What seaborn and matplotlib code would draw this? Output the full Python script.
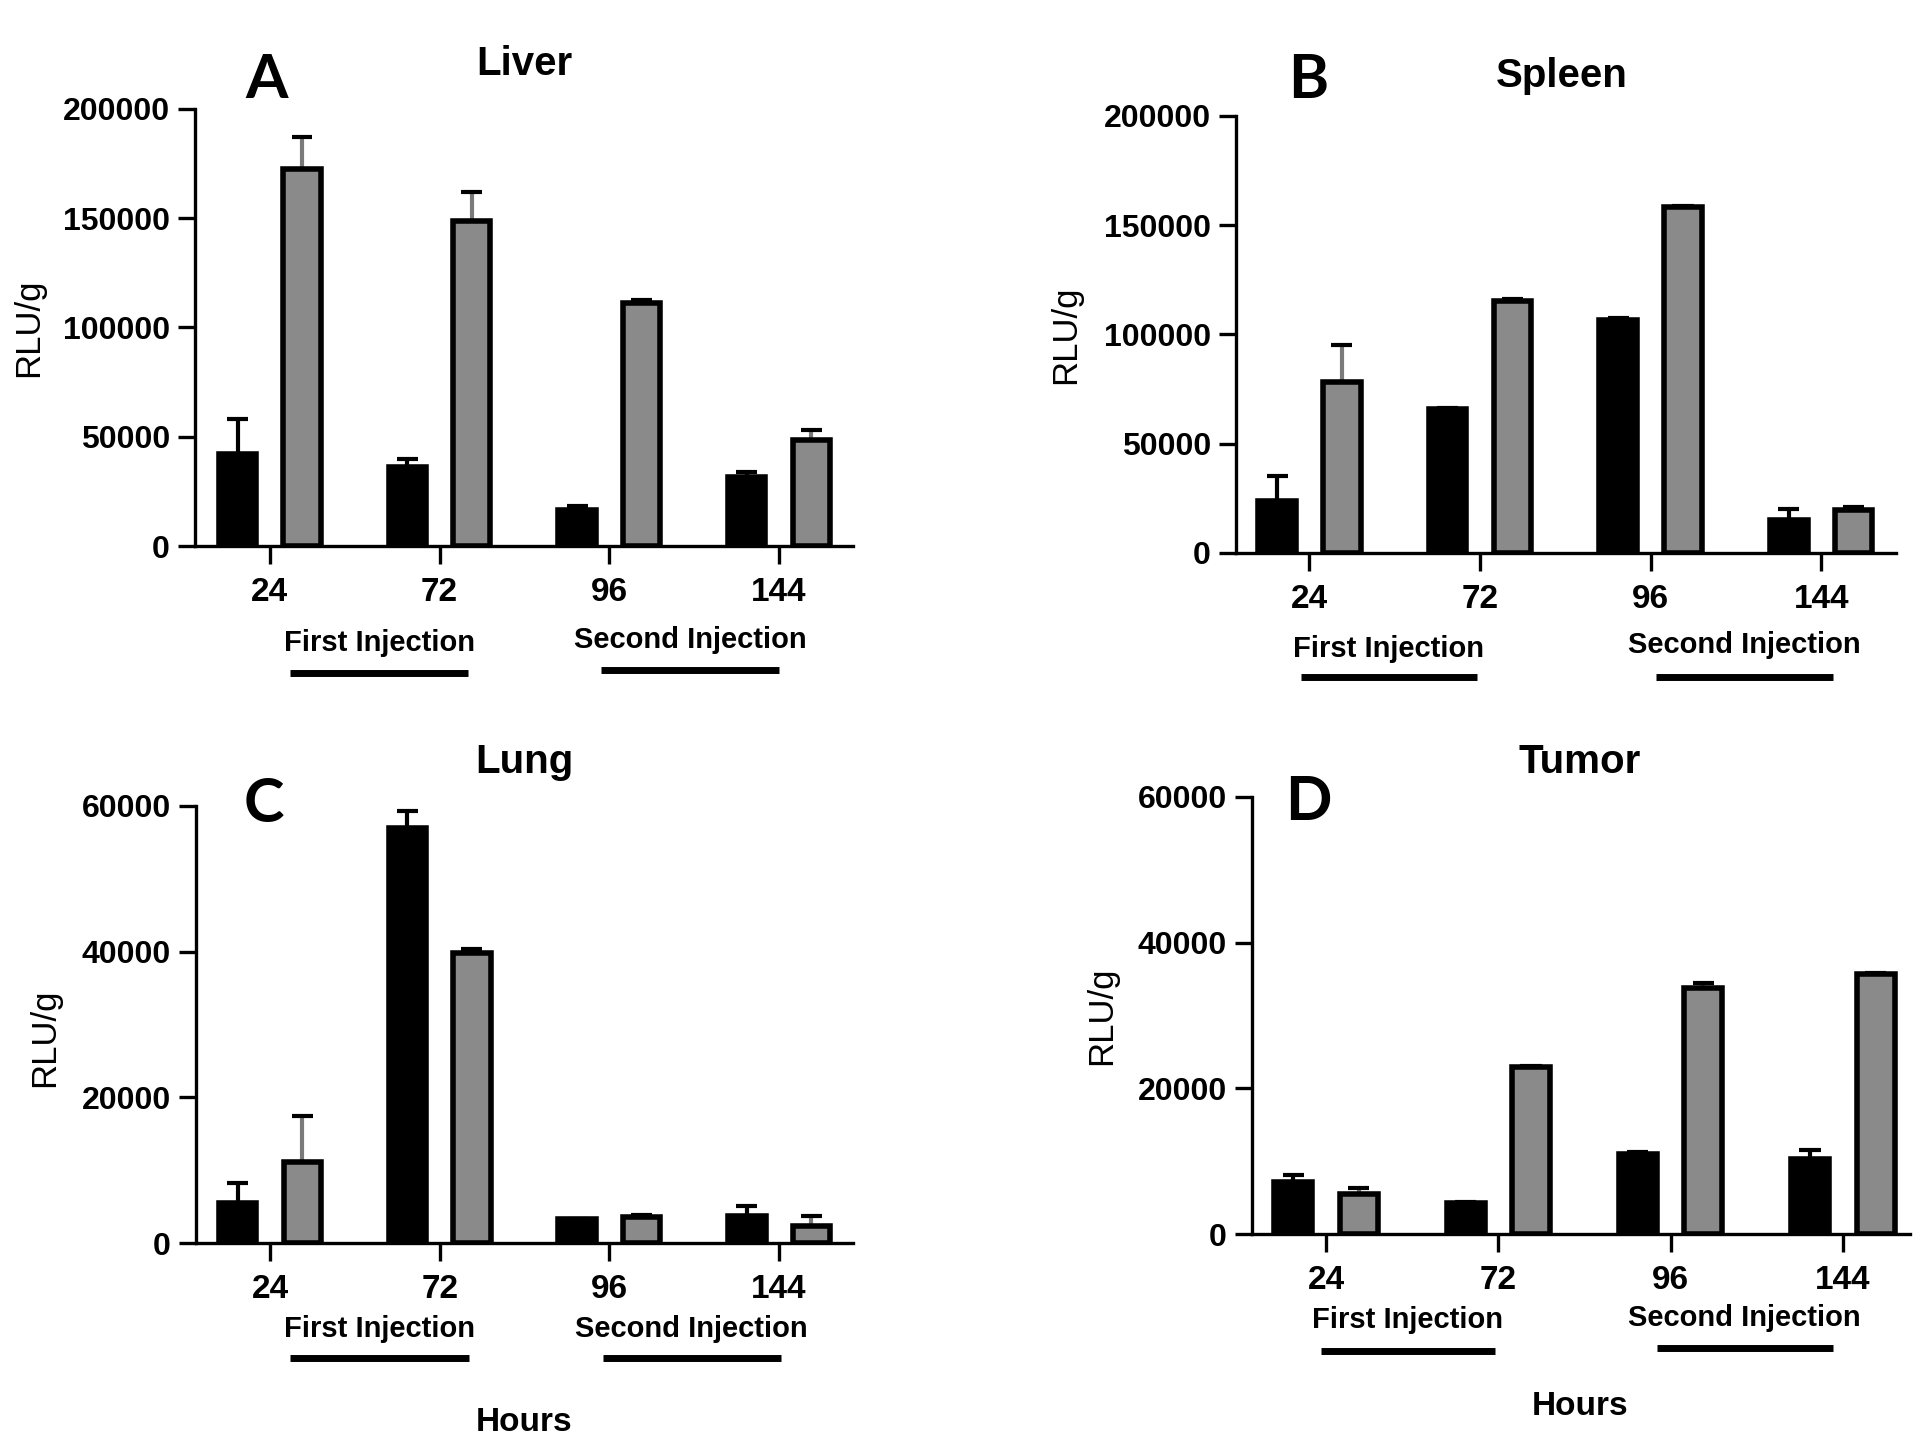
import numpy as np
import pandas as pd
import matplotlib
matplotlib.use("Agg")
import matplotlib.pyplot as plt
import seaborn as sns
from matplotlib.ticker import FuncFormatter

# Data (mean and upper error, RLU/g)
hours = ["24", "72", "96", "144"]
groups = ["Black", "Gray"]

liver_black = [42300, 36200, 16300, 31500]
liver_black_err = [15900, 3400, 1900, 2200]
liver_gray = [172400, 148500, 111100, 48400]
liver_gray_err = [14900, 13300, 1700, 4700]

spleen_black = [23900, 65800, 106800, 15300]
spleen_black_err = [11200, 600, 600, 4900]
spleen_gray = [78000, 115400, 158300, 19800]
spleen_gray_err = [17200, 1000, 400, 1400]

lung_black = [5440, 57030, 3230, 3670]
lung_black_err = [2790, 2210, 120, 1460]
lung_gray = [11140, 39870, 3540, 2340]
lung_gray_err = [6330, 510, 320, 1330]

tumor_black = [7100, 4310, 10960, 10260]
tumor_black_err = [1010, 100, 250, 1270]
tumor_gray = [5510, 22940, 33710, 35670]
tumor_gray_err = [830, 100, 760, 190]

sns.set_style("ticks")
plt.rcParams["font.family"] = ["Liberation Sans", "DejaVu Sans"]
plt.rcParams["text.color"] = "black"
plt.rcParams["axes.labelcolor"] = "black"

BAR_COLORS = {"Black": "black", "Gray": "#8a8a8a"}
STEM_COLORS = {"Black": "black", "Gray": "#7a7a7a"}


def draw_panel(ax, title, black, black_err, gray, gray_err, ymax, ystep, lay):

    """Draw one grouped bar panel with upper-only error bars."""

    df = pd.DataFrame({
        "Hours": hours * 2,
        "Group": ["Black"] * 4 + ["Gray"] * 4,
        "RLU": black + gray,
    })
    errs = {"Black": black_err, "Gray": gray_err}

    sns.barplot(
        data = df, x = "Hours", y = "RLU", hue = "Group",
        order = hours, hue_order = groups,
        palette = BAR_COLORS,
        width = 0.76, gap = 0.42,
        errorbar = None,
        edgecolor = "black", linewidth = 4,
        legend = False, ax = ax, zorder = 3,
    )

    # Patches come out hue by hue, in category order.
    patches = list(ax.patches)
    for i, p in enumerate(patches[:8]):
        grp = groups[i // 4]
        err = errs[grp][i % 4]
        xc = p.get_x() + p.get_width() / 2
        top = p.get_height()
        half = p.get_width() * 0.28
        ax.vlines(xc, top, top + err, color = STEM_COLORS[grp], lw = 3, zorder = 2)
        ax.hlines(top + err, xc - half, xc + half, color = "black", lw = 3, zorder = 2)

    sns.despine(ax = ax)
    for side in ["left", "bottom"]:
        ax.spines[side].set_linewidth(2.4)
        ax.spines[side].set_color("black")

    ax.set_xlim(*lay["xlim"])
    ax.set_ylim(0, ymax)
    ax.set_yticks(np.arange(0, ymax + 1, ystep))
    ax.yaxis.set_major_formatter(FuncFormatter(lambda v, p: f"{int(v)}"))
    ax.tick_params(axis = "y", length = 12, width = 2.4, pad = 6, labelsize = 23, colors = "black")
    ax.tick_params(axis = "x", length = 13, width = 2.4, pad = 9, labelsize = 24, colors = "black")
    for lab in ax.get_xticklabels() + ax.get_yticklabels():
        lab.set_fontweight("bold")

    ax.set_xlabel("")
    ax.set_ylabel("RLU/g", fontsize = 25, fontweight = "normal")
    ax.yaxis.set_label_coords(*lay["ylab"])

    ax.text(*lay["letter"], lay["name"], transform = ax.transAxes, ha = "center", va = "center",
            fontsize = 44, fontweight = "bold", family = ["Lato", "DejaVu Sans"])
    ax.text(*lay["title"], title, transform = ax.transAxes, ha = "center", va = "center",
            fontsize = 29, fontweight = "bold")

    # Injection labels with their underline bars
    trans = ax.get_xaxis_transform()
    for label, (x0, x1), ty, ly in [
        ("First Injection", lay["first"], lay["first_y"][0], lay["first_y"][1]),
        ("Second Injection", lay["second"], lay["second_y"][0], lay["second_y"][1]),
    ]:
        ax.text((x0 + x1) / 2, ty, label, transform = trans, ha = "center", va = "center",
                fontsize = 21, fontweight = "bold")
        ax.plot([x0, x1], [ly, ly], transform = trans, color = "black", lw = 5,
                solid_capstyle = "butt", clip_on = False)

    if "hours" in lay:
        ax.text(*lay["hours"], "Hours", transform = ax.transAxes, ha = "center", va = "center",
                fontsize = 24, fontweight = "bold")


fig = plt.figure(figsize = (19.2, 14.43), dpi = 100)

ax_a = fig.add_axes([0.1016, 0.6216, 0.3427, 0.3029])
ax_b = fig.add_axes([0.6438, 0.6168, 0.3438, 0.3029])
ax_c = fig.add_axes([0.1021, 0.1386, 0.3422, 0.3029])
ax_d = fig.add_axes([0.6521, 0.1448, 0.3427, 0.3029])

draw_panel(ax_a, "Liver", liver_black, liver_black_err, liver_gray, liver_gray_err, 200000, 50000, {
    "name": "A", "letter": (0.108, 1.066), "title": (0.50, 1.103), "ylab": (-0.228, 0.5),
    "xlim": (-0.44, 3.436),
    "first": (0.12, 1.17), "first_y": (-0.222, -0.29),
    "second": (1.95, 3.0), "second_y": (-0.215, -0.284),
})
draw_panel(ax_b, "Spleen", spleen_black, spleen_black_err, spleen_gray, spleen_gray_err, 200000, 50000, {
    "name": "B", "letter": (0.109, 1.082), "title": (0.494, 1.092), "ylab": (-0.233, 0.5),
    "xlim": (-0.43, 3.44),
    "first": (-0.05, 0.98), "first_y": (-0.22, -0.284),
    "second": (2.03, 3.07), "second_y": (-0.21, -0.284),
})
draw_panel(ax_c, "Lung", lung_black, lung_black_err, lung_gray, lung_gray_err, 60000, 20000, {
    "name": "C", "letter": (0.103, 1.005), "title": (0.499, 1.101), "ylab": (-0.205, 0.47),
    "xlim": (-0.436, 3.436),
    "first": (0.12, 1.17), "first_y": (-0.197, -0.263),
    "second": (1.96, 3.01), "second_y": (-0.197, -0.263),
    "hours": (0.499, -0.41),
})
draw_panel(ax_d, "Tumor", tumor_black, tumor_black_err, tumor_gray, tumor_gray_err, 60000, 20000, {
    "name": "D", "letter": (0.085, 0.989), "title": (0.498, 1.080), "ylab": (-0.204, 0.5),
    "xlim": (-0.43, 3.39),
    "first": (-0.03, 0.98), "first_y": (-0.197, -0.268),
    "second": (1.92, 2.94), "second_y": (-0.192, -0.26),
    "hours": (0.498, -0.394),
})

fig.savefig("out.png", dpi = 100, facecolor = "white")
